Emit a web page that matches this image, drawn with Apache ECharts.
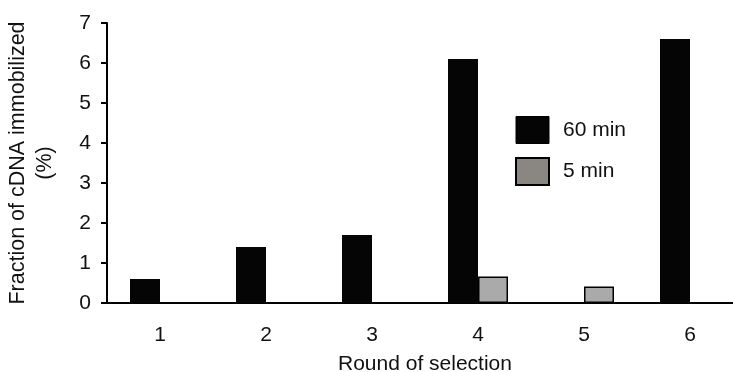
<!DOCTYPE html>
<html><head><meta charset="utf-8">
<script src="https://cdn.jsdelivr.net/npm/echarts@6/dist/echarts.min.js"></script>
<style>html,body{margin:0;padding:0;background:#fff}#c{width:733px;height:372px}</style>
</head><body><div id="c"></div>
<script>
var categories = ['1','2','3','4','5','6'];
var seriesNames = ['60 min','5 min'];
var values60 = [0.6, 1.4, 1.7, 6.1, null, 6.6];
var values5 = [null, null, null, 0.66, 0.41, null];
var yTicks = [0,1,2,3,4,5,6,7];

var FONT = 'Liberation Sans';
var chart = echarts.init(document.getElementById('c'));
chart.setOption({
  animation: false,
  textStyle: {fontFamily: FONT},
  grid: {left: 107, top: 23, bottom: 69, right: -10, containLabel: false, outerBoundsMode: 'none'},
  legend: {
    orient: 'vertical', left: 515, top: 116, padding: 0,
    itemWidth: 33, itemHeight: 27, itemGap: 13, icon: 'rect',
    textStyle: {fontFamily: FONT, fontSize: 21, color: '#111', padding: [0, 0, 0, 9]},
    data: [
      {name: seriesNames[0], itemStyle: {color: '#050505', borderColor: '#000', borderWidth: 1}},
      {name: seriesNames[1], itemStyle: {color: '#8a8682', borderColor: '#000', borderWidth: 2}}
    ]
  },
  xAxis: {
    type: 'category', data: categories,
    name: 'Round of selection', nameLocation: 'middle', nameGap: 51,
    nameTextStyle: {fontFamily: FONT, fontSize: 21, color: '#111'},
    axisLine: {lineStyle: {color: '#000', width: 2}},
    axisTick: {length: 6, lineStyle: {color: '#000', width: 2}},
    axisLabel: {fontFamily: FONT, fontSize: 21, color: '#111', margin: 22}
  },
  yAxis: {
    type: 'value', min: yTicks[0], max: yTicks[yTicks.length-1], interval: 1,
    name: 'Fraction of cDNA immobilized\n(%)', nameLocation: 'middle', nameGap: 48, nameRotate: 90,
    nameTextStyle: {fontFamily: FONT, fontSize: 21.5, color: '#111', lineHeight: 27},
    splitLine: {show: false},
    axisLine: {show: true, lineStyle: {color: '#000', width: 2}},
    axisTick: {show: true, length: 6, lineStyle: {color: '#000', width: 2}},
    axisLabel: {fontFamily: FONT, fontSize: 21, color: '#111', margin: 16}
  },
  series: [
    {name: seriesNames[0], type: 'bar', data: values60, barWidth: 30, barGap: '0%',
     itemStyle: {color: '#050505'}},
    {name: seriesNames[1], type: 'bar', data: values5, barWidth: 30, barGap: '0%',
     itemStyle: {color: '#aaaaaa', borderColor: '#000', borderWidth: 1.5}}
  ]
});
</script></body></html>
